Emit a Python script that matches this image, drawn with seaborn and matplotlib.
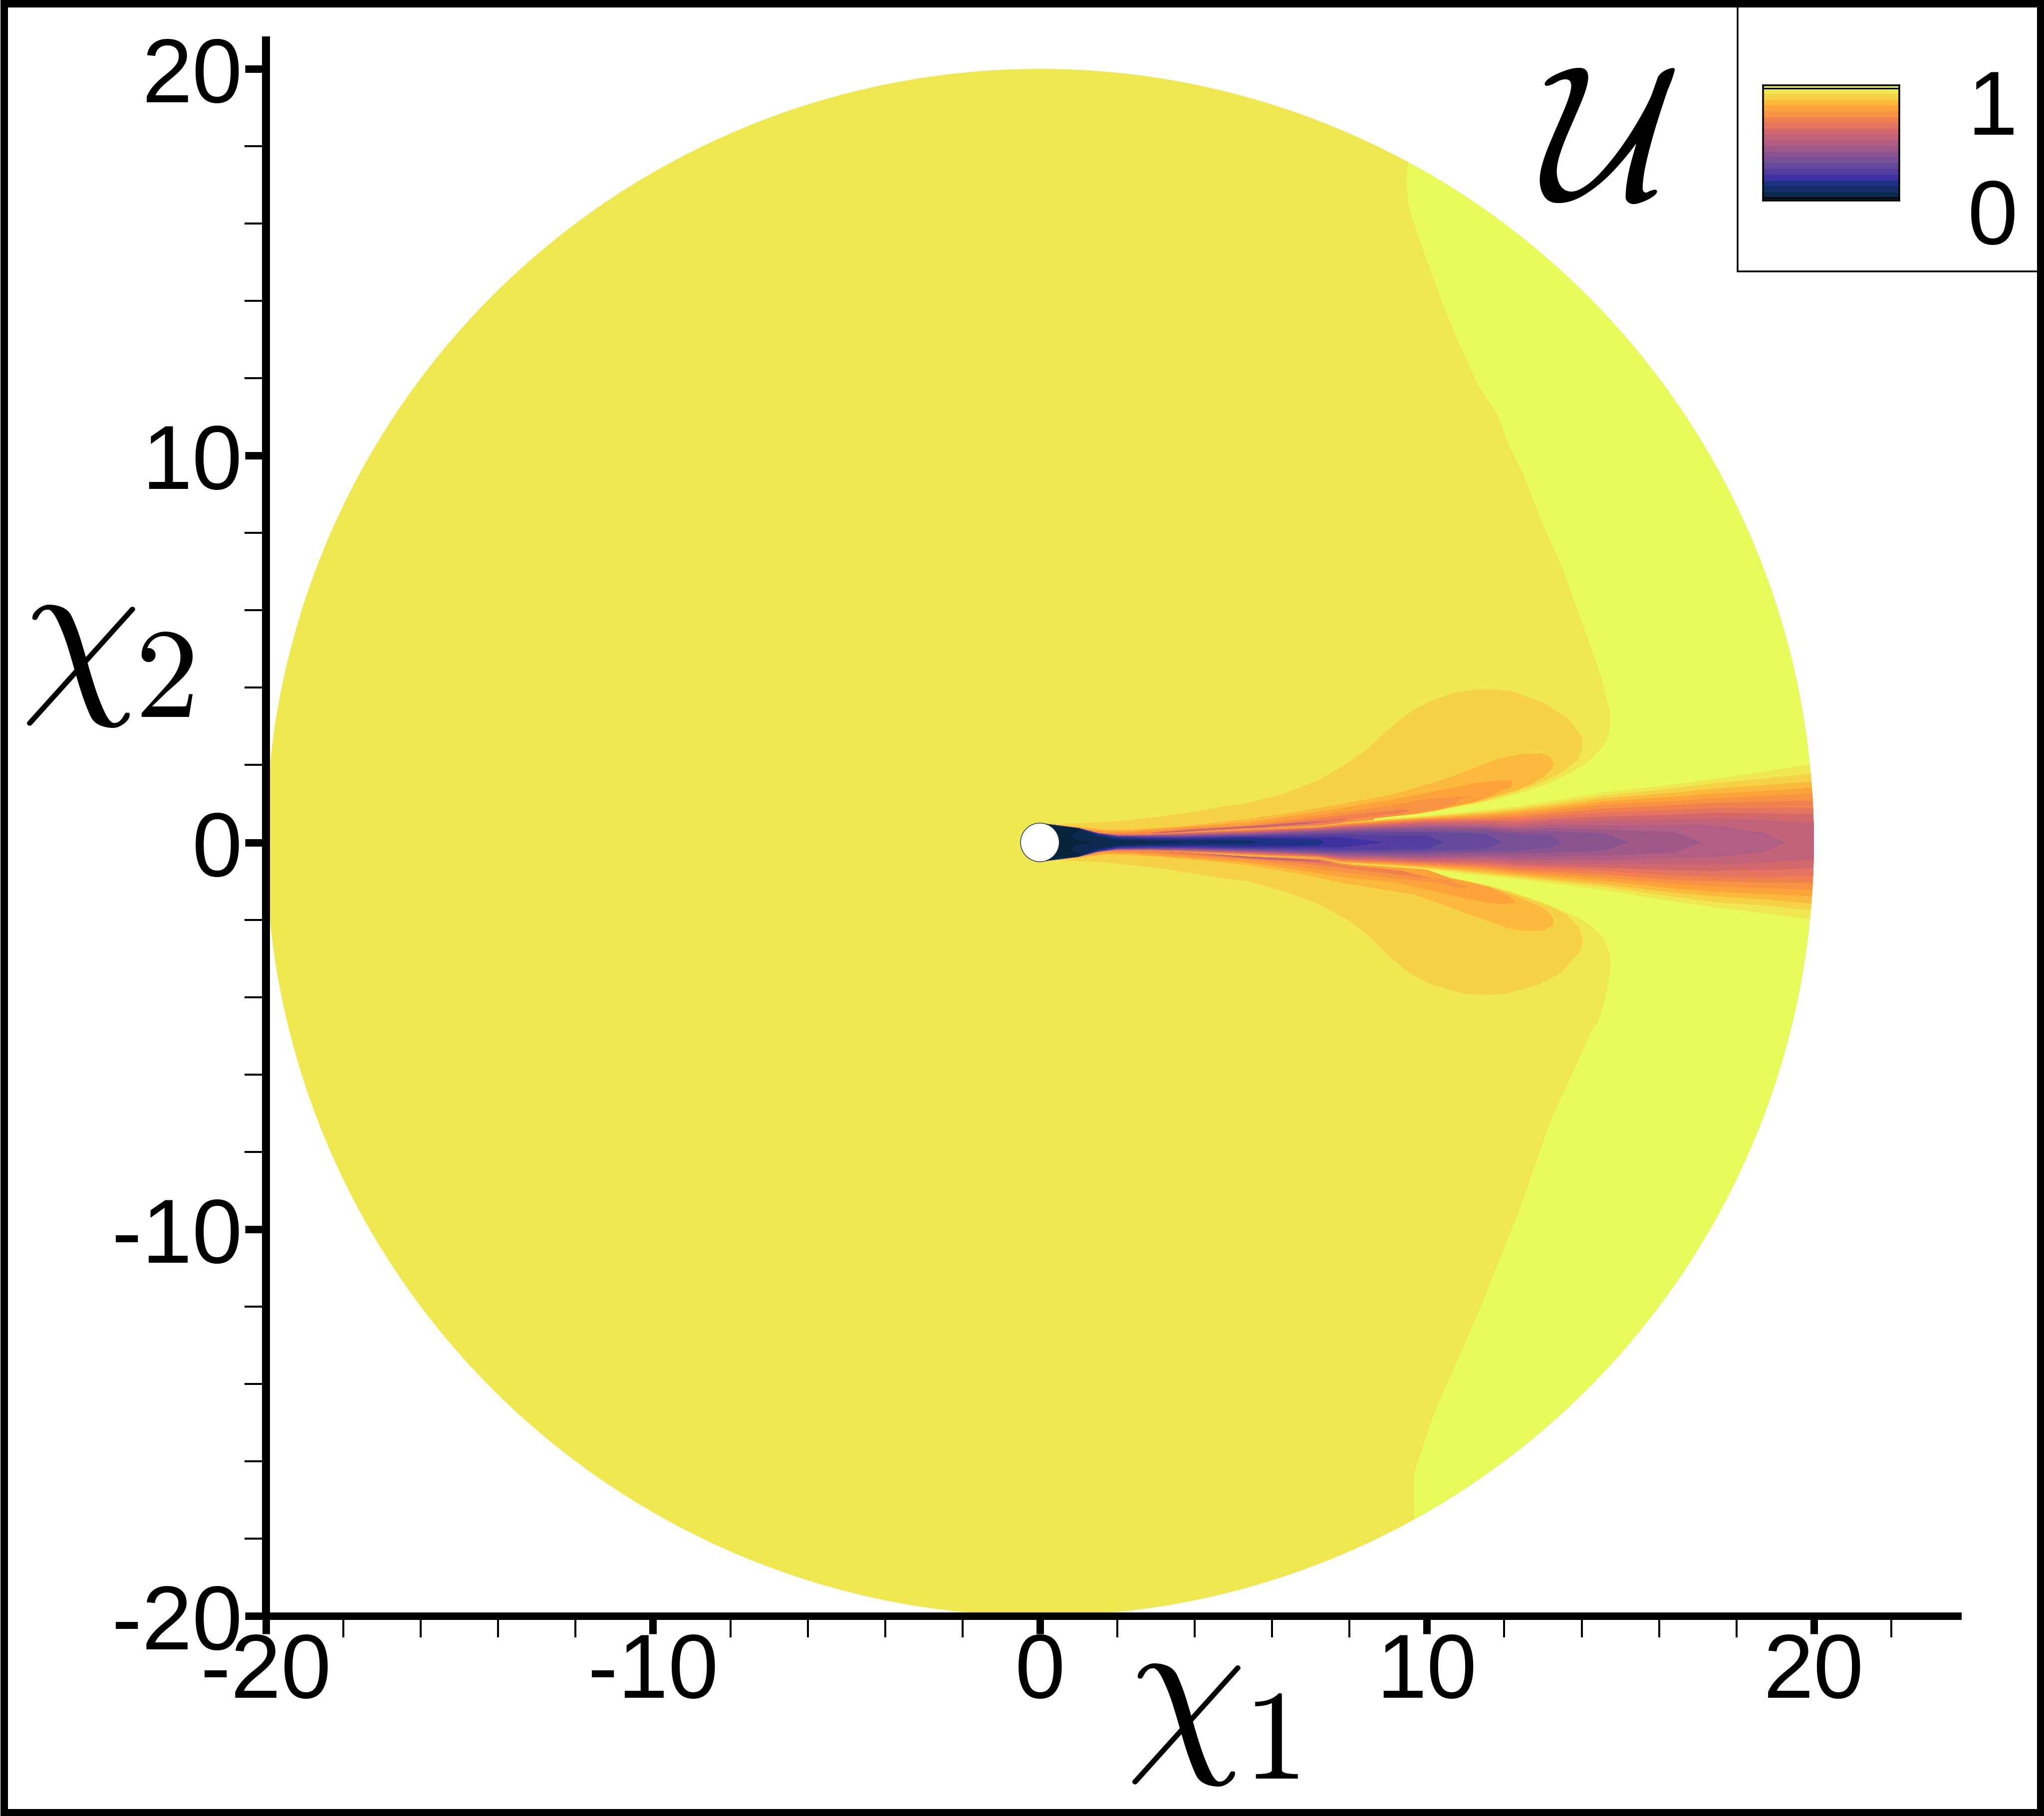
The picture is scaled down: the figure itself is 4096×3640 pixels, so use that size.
import numpy as np
import matplotlib
matplotlib.use("Agg")
import matplotlib.pyplot as plt
from matplotlib.colors import ListedColormap
from matplotlib.patches import Circle, Rectangle
from matplotlib.ticker import FixedLocator, FixedFormatter
import seaborn as sns

# ---------- data ----------
LEVEL_COLOURS = ["#06233A", "#0C2A50", "#122F6A", "#203285", "#3E33A0", "#563EA0", "#654A9B", "#785096",
                 "#8A558F", "#9F5989", "#B15E84", "#C26479", "#D3686C", "#E57561", "#F27F4E", "#F89344",
                 "#FEA33A", "#FBB93D", "#F6D246", "#EFE851", "#E8FB5A"]
LEVEL_VALUES = [i / 20 for i in range(21)]
MAJOR_TICKS = [-20, -10, 0, 10, 20]
MAJOR_LABELS = ["-20", "-10", "0", "10", "20"]
X_MINOR = [-18, -16, -14, -12, -8, -6, -4, -2, 2, 4, 6, 8, 12, 14, 16, 18, 22]
Y_MINOR = [-18, -16, -14, -12, -8, -6, -4, -2, 2, 4, 6, 8, 12, 14, 16, 18]
DOMAIN_RADIUS = 20
CYLINDER_RADIUS = 0.5

LIME_UP = [(9.2, 18.5), (9.51, 17.55), (9.47, 17.18), (9.51, 16.54), (9.63, 16.11), (9.96, 15.15), (10.41, 13.92),
           (10.74, 13.11), (11.32, 11.83), (11.81, 11.08), (12.14, 10.22), (12.51, 9.48), (12.96, 8.30),
           (13.45, 7.23), (14.07, 5.52), (14.52, 4.23), (14.73, 3.38), (14.74, 3.0), (14.65, 2.65), (14.49, 2.40),
           (14.12, 2.05), (13.69, 1.79), (13.08, 1.49), (12.27, 1.23), (11.29, 1.0), (10.42, 0.87), (9.68, 0.73),
           (9.07, 0.67), (8.63, 0.62)]
LIME_LO = [(8.08, -0.57), (9.19, -0.62), (9.99, -0.70), (10.12, -0.84), (10.61, -0.92), (11.23, -1.04),
           (11.84, -1.17), (12.46, -1.37), (13.08, -1.58), (13.63, -1.82), (14.0, -1.99), (14.31, -2.21),
           (14.56, -2.46), (14.74, -2.89), (14.74, -3.32), (14.62, -3.97), (14.43, -4.62), (14.28, -4.83),
           (13.2, -7.19), (12.37, -9.55), (11.36, -12.08), (10.18, -14.78), (9.67, -16.3), (9.67, -17.6),
           (9.3, -18.5), (21, -18.5), (21, 18.5)]

F6D_UP = [(0.21, 0.48), (0.95, 0.495), (1.69, 0.52), (2.43, 0.59), (3.17, 0.675), (3.91, 0.78), (4.65, 0.91),
          (5.37, 1.02), (6.29, 1.25), (7.22, 1.62), (7.83, 1.97), (8.45, 2.40), (8.76, 2.70), (9.19, 3.08),
          (9.68, 3.45), (10.12, 3.66), (10.73, 3.88), (11.41, 3.97), (12.15, 3.92), (13.01, 3.62), (13.69, 3.17),
          (14.0, 2.74), (14.02, 2.40), (13.91, 2.14), (13.63, 1.92), (13.32, 1.71), (12.71, 1.45), (12.15, 1.26),
          (11.53, 1.08), (10.92, 0.95), (10.30, 0.83), (9.68, 0.73), (9.07, 0.67), (8.63, 0.62), (8.63, 0.3), (0.2, 0.2)]
F6D_LO = [(0.35, -0.46), (1.69, -0.51), (3.17, -0.68), (4.65, -0.92), (5.37, -1.0), (6.29, -1.26), (7.22, -1.60),
          (7.96, -2.01), (8.45, -2.36), (9.07, -2.98), (9.56, -3.39), (10.12, -3.67), (10.92, -3.91), (11.53, -3.95),
          (12.09, -3.91), (12.89, -3.67), (13.45, -3.39), (13.97, -2.81), (14.03, -2.51), (13.94, -2.21),
          (13.63, -1.88), (13.32, -1.71), (12.77, -1.50), (12.15, -1.28), (11.53, -1.11), (10.92, -0.98),
          (10.30, -0.85), (9.19, -0.62), (8.08, -0.57), (8.08, -0.3), (0.2, -0.2)]
FBB_UP = [(0.35, 0.44), (0.95, 0.417), (1.69, 0.33), (2.43, 0.33), (3.91, 0.44), (5.37, 0.61), (6.6, 0.78), (7.83, 1.0),
          (9.07, 1.23), (10.3, 1.58), (10.92, 1.81), (11.84, 2.16), (12.46, 2.29), (12.98, 2.30), (13.2, 2.2),
          (13.28, 2.05), (13.2, 1.86), (13.0, 1.69), (12.71, 1.51), (12.34, 1.36), (11.84, 1.21), (11.23, 1.04),
          (10.61, 0.91), (10.3, 0.83), (9.68, 0.73), (9.07, 0.67), (8.63, 0.62), (8.63, 0.3), (0.35, 0.2)]
FBB_LO = [(0.35, -0.44), (0.95, -0.41), (1.69, -0.31), (2.43, -0.33), (3.91, -0.44), (5.37, -0.59), (6.6, -0.79),
          (7.83, -1.05), (9.68, -1.35), (10.92, -1.80), (11.53, -2.01), (12.15, -2.23), (12.52, -2.29), (13.0, -2.28),
          (13.25, -2.16), (13.28, -2.01), (13.17, -1.82), (12.95, -1.67), (12.46, -1.45), (11.84, -1.22),
          (11.23, -1.07), (10.3, -0.85), (9.19, -0.62), (8.08, -0.57), (8.08, -0.3), (0.35, -0.2)]
FEA_UP = [(0.95, 0.39), (1.69, 0.30), (2.43, 0.31), (3.91, 0.415), (5.37, 0.525), (6.6, 0.70), (7.83, 0.89), (9.07, 1.1),
          (10.3, 1.34), (11.23, 1.53), (11.84, 1.60), (12.21, 1.60), (12.18, 1.43), (11.9, 1.34), (11.72, 1.23),
          (11.23, 1.04), (10.67, 0.93), (10.3, 0.83), (9.68, 0.73), (9.07, 0.67), (8.63, 0.62), (8.63, 0.3), (0.95, 0.2)]
FEA_LO = [(0.95, -0.39), (1.69, -0.29), (2.43, -0.30), (3.91, -0.41), (5.37, -0.53), (6.6, -0.70), (7.83, -0.90),
          (9.07, -1.02), (10.3, -1.28), (11.23, -1.5), (11.9, -1.6), (12.3, -1.56), (12.12, -1.39), (11.66, -1.17),
          (11.23, -1.05), (10.61, -0.92), (9.99, -0.70), (9.19, -0.62), (8.08, -0.57), (8.08, -0.3), (0.95, -0.2)]
F89_UP = [(1.0, 0.375), (1.69, 0.26), (2.43, 0.27), (3.91, 0.38), (5.37, 0.46), (6.6, 0.61), (7.83, 0.78), (9.07, 0.95),
          (9.99, 1.13), (11.19, 1.2), (10.82, 1.1), (10.73, 1.0), (10.3, 0.87), (9.81, 0.78), (9.07, 0.67),
          (8.63, 0.62), (8.63, 0.3), (1.0, 0.2)]
F89_LO = [(1.0, -0.37), (1.69, -0.25), (2.43, -0.27), (3.91, -0.37), (5.37, -0.465), (6.6, -0.615), (7.83, -0.77),
          (9.07, -0.92), (10.3, -1.05), (10.79, -1.17), (11.13, -1.16), (10.79, -1.07), (10.58, -0.96), (10.12, -0.92),
          (9.07, -0.77), (7.96, -0.59), (7.96, -0.3), (1.0, -0.2)]
F27_UP = [(1.69, 0.23), (2.8, 0.25), (3.91, 0.35), (5.37, 0.41), (6.6, 0.55), (7.83, 0.70), (9.07, 0.82), (9.47, 0.86),
          (9.55, 0.78), (9.07, 0.73), (8.45, 0.65), (7.83, 0.57), (7.83, 0.3), (1.69, 0.15)]
F27_LO = [(1.69, -0.22), (2.8, -0.24), (3.91, -0.33), (5.37, -0.42), (6.6, -0.53), (7.83, -0.66), (9.07, -0.81),
          (10.12, -0.925), (9.62, -0.81), (9.31, -0.72), (8.45, -0.64), (7.89, -0.59), (7.58, -0.53), (7.58, -0.3),
          (1.69, -0.15)]
E57_UP = [(5.37, 0.37), (6.6, 0.48), (7.83, 0.62), (7.99, 0.57), (7.22, 0.5), (5.98, 0.4), (5.37, 0.33)]
E57_LO = [(5.37, -0.38), (6.6, -0.465), (7.58, -0.57), (7.34, -0.49), (6.29, -0.40), (5.37, -0.34)]
C26_UP = [(2.8, 0.24), (3.91, 0.33), (5.39, 0.42), (6.87, 0.52), (7.5, 0.56), (6.87, 0.48), (5.39, 0.38), (3.91, 0.29), (3.17, 0.24)]
C26_LO = [(2.43, -0.195), (3.91, -0.27), (5.39, -0.41), (7.24, -0.51), (7.24, -0.473), (5.39, -0.365), (3.91, -0.245)]

JET_X = [0.0, 0.3, 1.0, 1.5, 2.0, 2.8, 3.7, 5.4, 7.2, 7.8, 8.9, 10.0, 11.53, 12.37, 13.2, 14.61, 16.4, 17.41, 18.7, 19.87, 20.6]
JET_TIP = {9: 19.25, 10: 17.1, 11: 15.2, 12: 13.52, 13: 11.94, 14: 10.42, 15: 8.91, 16: 7.36, 17: 5.68, 18: 3.72}
# one row per station in JET_X, outermost contour first; rows end where a tongue has ended
JET_UPPER = [
    [.5] * 19,
    [.46] * 18 + [.45],
    [.37] * 17 + [.365, .36],
    [.24] * 15 + [.225, .21, .19, .16],
    [.19] * 9 + [.185, .18, .175, .17, .165, .16, .145, .125, .1, .07],
    [.215] * 5 + [.21, .205, .2, .195, .19, .18, .17, .165, .155, .145, .125, .1, .075, .04],
    [.26] * 5 + [.25, .24, .23, .22, .205, .19, .18, .17, .155, .14, .12, .09, .06],
    [.35, .35, .35, .345, .335, .32, .305, .285, .27, .25, .235, .22, .2, .185, .168, .146, .116, .05],
    [.43, .425, .42, .415, .405, .39, .38, .365, .35, .33, .31, .29, .265, .235, .195, .14, .08],
    [.5, .5, .49, .485, .47, .45, .435, .41, .39, .37, .345, .32, .29, .25, .2, .13],
    [.61, .59, .575, .56, .54, .52, .49, .465, .435, .41, .38, .35, .31, .27, .19],
    [.69, .67, .65, .63, .61, .585, .56, .53, .49, .45, .41, .37, .32, .27, .19],
    [.84, .80, .76, .72, .68, .63, .59, .55, .49, .44, .40, .35, .29, .22],
    [.93, .89, .84, .78, .73, .67, .60, .53, .46, .40, .34, .28, .22],
    [1.07, 1.0, .94, .88, .82, .75, .68, .6, .53, .45, .38, .3, .17],
    [1.30, 1.21, 1.14, 1.06, .98, .88, .78, .67, .56, .44, .33, .23],
    [1.5, 1.4, 1.29, 1.18, 1.07, .96, .84, .72, .6, .45, .27],
    [1.64, 1.53, 1.39, 1.26, 1.14, 1.02, .89, .76, .63, .44],
    [1.83, 1.65, 1.48, 1.33, 1.2, 1.05, .89, .75, .58, .25],
    [2.01, 1.77, 1.57, 1.41, 1.26, 1.08, .89, .73, .51],
    [2.07, 1.82, 1.62, 1.45, 1.30, 1.11, .92, .75, .53],
]
JET_LOWER = [
    [-.5] * 19,
    [-.46] * 18 + [-.45],
    [-.37] * 17 + [-.365, -.36],
    [-.24] * 15 + [-.225, -.21, -.19, -.16],
    [-.19] * 9 + [-.185, -.18, -.175, -.17, -.165, -.16, -.145, -.125, -.1, -.07],
    [-.215] * 5 + [-.205, -.2, -.195, -.19, -.185, -.175, -.17, -.16, -.15, -.14, -.125, -.1, -.075, -.04],
    [-.25] * 4 + [-.245, -.235, -.225, -.215, -.205, -.195, -.185, -.175, -.165, -.15, -.135, -.115, -.09, -.06],
    [-.36, -.36, -.36, -.335, -.32, -.305, -.29, -.275, -.258, -.245, -.23, -.215, -.2, -.18, -.163, -.142, -.1, -.04],
    [-.42, -.415, -.41, -.40, -.39, -.375, -.36, -.345, -.33, -.31, -.29, -.27, -.25, -.22, -.185, -.13, -.08],
    [-.54, -.53, -.52, -.51, -.49, -.47, -.45, -.42, -.40, -.37, -.345, -.31, -.28, -.245, -.2, -.13],
    [-.62, -.6, -.58, -.56, -.54, -.51, -.48, -.45, -.42, -.39, -.36, -.32, -.28, -.24, -.19],
    [-.70, -.67, -.65, -.62, -.59, -.56, -.53, -.5, -.46, -.42, -.38, -.33, -.28, -.23, -.17],
    [-.865, -.82, -.78, -.73, -.68, -.63, -.58, -.53, -.47, -.41, -.36, -.29, -.23, -.16],
    [-.95, -.91, -.87, -.82, -.77, -.72, -.66, -.6, -.53, -.46, -.38, -.29, -.21],
    [-1.06, -1.0, -.95, -.89, -.83, -.76, -.69, -.62, -.55, -.46, -.37, -.27, -.14],
    [-1.24, -1.15, -1.09, -1.0, -.92, -.83, -.74, -.66, -.56, -.46, -.34, -.21],
    [-1.53, -1.41, -1.30, -1.19, -1.08, -.97, -.85, -.72, -.57, -.40, -.26],
    [-1.67, -1.54, -1.39, -1.28, -1.13, -1.0, -.89, -.74, -.57, -.38],
    [-1.83, -1.63, -1.47, -1.33, -1.18, -1.04, -.9, -.71, -.52, -.25],
    [-1.99, -1.75, -1.58, -1.39, -1.22, -1.04, -.87, -.68, -.46],
    [-2.05, -1.8, -1.62, -1.43, -1.26, -1.07, -.9, -.7, -.48],
]
CORE = [(0.0, .5), (.34, .42), (.94, .37), (1.05, .31), (.85, .22), (.83, .14), (.94, .07), (1.26, .02), (1.41, 0),
        (1.26, -.014), (.94, -.065), (.83, -.14), (.85, -.23), (1.05, -.31), (.94, -.36), (.34, -.41), (0.0, -.5)]

# ---------- figure ----------
W, H = 4096, 3641
sns.set_theme(style="white")
plt.rcParams["font.family"] = ["Liberation Sans", "DejaVu Sans"]
plt.rcParams["mathtext.fontset"] = "cm"
PX = 0.72  # points per pixel at dpi=100
fig = plt.figure(figsize=(W / 100, H / 100), dpi=100, facecolor="white")


def fx(p):
    return p / W


def fy(p):
    return 1 - p / H


L, R, B, T = 533, 3923.5, 3240, 82
ax = fig.add_axes([fx(L), fy(B), fx(R) - fx(L), fy(T) - fy(B)], facecolor="none")
ax.set_xlim(-20, (R - 2084) / 77.54)
ax.set_ylim(-20, (1689 - T) / 77.5)

color_of = dict(zip(["lime", "efe", "f6d", "fbb", "fea", "f89", "f27", "e57", "d36", "c26"],
                    [LEVEL_COLOURS[20], LEVEL_COLOURS[19], LEVEL_COLOURS[18], LEVEL_COLOURS[17], LEVEL_COLOURS[16],
                     LEVEL_COLOURS[15], LEVEL_COLOURS[14], LEVEL_COLOURS[13], LEVEL_COLOURS[12], LEVEL_COLOURS[11]]))

disc = Circle((0, 0), DOMAIN_RADIUS, fc=color_of["efe"], ec="none", zorder=1, clip_on=False)
ax.add_patch(disc)


def poly(pts, colour, z):
    xs, ys = zip(*pts)
    for art in ax.fill(xs, ys, color=colour, lw=0, zorder=z, antialiased=True):
        art.set_clip_path(disc)


poly(LIME_UP + LIME_LO, color_of["lime"], 2)
layers = [(F6D_UP, "f6d"), (F6D_LO, "f6d"), (FBB_UP, "fbb"), (FBB_LO, "fbb"), (FEA_UP, "fea"), (FEA_LO, "fea"),
          (F89_UP, "f89"), (F89_LO, "f89"), (F27_UP, "f27"), (F27_LO, "f27"), (E57_UP, "e57"), (E57_LO, "e57"),
          (C26_UP, "c26"), (C26_LO, "c26")]
for k, (pts, name) in enumerate(layers):
    poly(pts, color_of[name], 3 + k * 0.01)

for i in range(19):
    colour = LEVEL_COLOURS[19 - i]
    up = [(x, row[i]) for x, row in zip(JET_X, JET_UPPER) if len(row) > i]
    lo = [(x, row[i]) for x, row in zip(JET_X, JET_LOWER) if len(row) > i]
    tip = [(JET_TIP[i], 0)] if i in JET_TIP else []
    poly(up + tip + lo[::-1], colour, 4 + i * 0.01)
poly(CORE, LEVEL_COLOURS[0], 4.5)
ax.add_patch(Circle((0, 0), CYLINDER_RADIUS, fc="white", ec=LEVEL_COLOURS[1], lw=1.0, zorder=5))

# axes furniture
sns.despine(ax=ax, top=True, right=True)
ax.spines["left"].set_linewidth(16 * PX)
ax.spines["bottom"].set_linewidth(15 * PX)
for s in ("left", "bottom"):
    ax.spines[s].set_color("black")
    ax.spines[s].set_zorder(6)
ax.xaxis.set_major_locator(FixedLocator(MAJOR_TICKS))
ax.xaxis.set_major_formatter(FixedFormatter(MAJOR_LABELS))
ax.yaxis.set_major_locator(FixedLocator(MAJOR_TICKS))
ax.yaxis.set_major_formatter(FixedFormatter(MAJOR_LABELS))
ax.xaxis.set_minor_locator(FixedLocator(X_MINOR))
ax.yaxis.set_minor_locator(FixedLocator(Y_MINOR))
FS = 181 * PX
ax.tick_params(axis="x", which="major", length=36 * PX, width=15 * PX, pad=-5 * PX, labelsize=FS, color="black",
               labelcolor="black", bottom=True, direction="out")
ax.tick_params(axis="y", which="major", length=42 * PX, width=15 * PX, pad=5 * PX, labelsize=FS, color="black",
               labelcolor="black", left=True, direction="out")
ax.tick_params(axis="both", which="minor", length=43 * PX, width=4 * PX, color="black", bottom=True, left=True,
               direction="out")

# outer frame and legend box
fig.add_artist(Rectangle((fx(7.5), fy(H - 7.5)), fx(W - 15), (H - 15) / H, transform=fig.transFigure, fill=False,
                         ec="black", lw=15 * PX, zorder=10))
fig.add_artist(plt.Line2D([fx(3482), fx(3482), fx(4085)], [fy(10), fy(544.5), fy(544.5)], color="black", lw=3.5 * PX,
                          solid_joinstyle="miter", zorder=9))

# colour bar as a one-column heatmap of the contour levels
cax = fig.add_axes([fx(3533), fy(403), fx(3806) - fx(3533), fy(172) - fy(403)])
rows = [LEVEL_VALUES[20]] + [v for v in LEVEL_VALUES[19:0:-1] for _ in (0, 1)] + [LEVEL_VALUES[0]]
rows = np.array(rows).reshape(-1, 1)
sns.heatmap(rows, ax=cax, cmap=ListedColormap(LEVEL_COLOURS), vmin=-0.025, vmax=1.025, cbar=False, xticklabels=False,
            yticklabels=False)
n = rows.shape[0]
cax.hlines([1, n - 1], 0, 1, color="black", lw=3 * PX)
for s in cax.spines.values():
    s.set_visible(True)
    s.set_color("black")
    s.set_linewidth(3.5 * PX)

fig.text(fx(3993), fy(270), "1", ha="center", va="baseline", fontsize=FS, color="black")
fig.text(fx(3993), fy(489), "0", ha="center", va="baseline", fontsize=FS, color="black")

# titles: the symbol and its digit have separate sizes
CHI_SIZE = 382 * PX
DIGIT_SIZE = 256 * PX
fig.text(fx(2257), fy(3503), r"$\chi$", ha="left", va="baseline", fontsize=CHI_SIZE, color="black")
fig.text(fx(2492), fy(3565), r"$1$", ha="left", va="baseline", fontsize=DIGIT_SIZE, color="black")
fig.text(fx(42), fy(1381), r"$\chi$", ha="left", va="baseline", fontsize=CHI_SIZE, color="black")
fig.text(fx(270), fy(1437), r"$2$", ha="left", va="baseline", fontsize=DIGIT_SIZE, color="black")
fig.text(fx(3085), fy(399), r"$\mathcal{U}$", ha="left", va="baseline", fontsize=384 * PX, color="black")

fig.savefig("out.png", dpi=100, facecolor="white")
